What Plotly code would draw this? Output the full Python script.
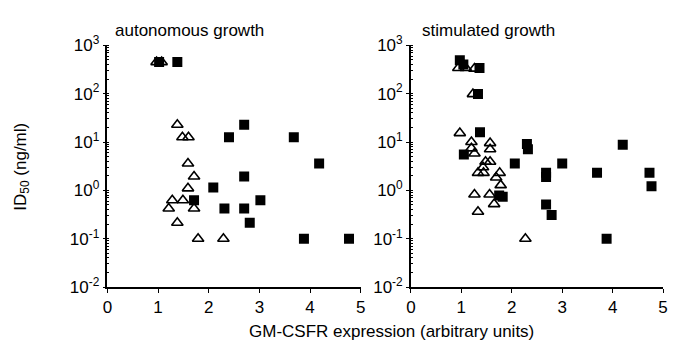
import plotly.graph_objects as go

# ID50 versus GM-CSFR expression, two growth conditions
# autonomous growth
auto_tri_x = [0.97, 1.07, 1.38, 1.48, 1.60, 1.59, 1.71, 1.59, 1.28, 1.49, 1.21, 1.71, 1.38, 1.79, 2.29]
auto_tri_y = [450, 450, 22.7, 12.5, 12.5, 3.6, 1.94, 1.1, 0.625, 0.625, 0.42, 0.42, 0.214, 0.1, 0.1]
auto_sq_x = [1.02, 1.38, 2.70, 2.40, 3.68, 4.18, 2.70, 2.09, 1.71, 3.02, 2.31, 2.70, 2.81, 3.88, 4.77]
auto_sq_y = [450, 450, 22.7, 12.5, 12.5, 3.6, 1.94, 1.15, 0.625, 0.625, 0.42, 0.42, 0.214, 0.1, 0.1]

# stimulated growth
stim_tri_x = [0.94, 1.09, 1.26, 1.23, 0.97, 1.20, 1.20, 1.57, 1.57, 1.26, 1.48, 1.57, 1.43,
              1.33, 1.44, 1.76, 1.69, 1.78, 1.26, 1.56, 1.65, 1.33, 2.27]
stim_tri_y = [340, 340, 330, 98, 15.3, 10, 7.4, 9.5, 7.1, 5.8, 3.9, 3.9, 3.0,
              2.3, 2.3, 2.3, 1.85, 1.28, 0.82, 0.82, 0.52, 0.36, 0.1]
stim_sq_x = [0.97, 1.04, 1.36, 1.33, 1.37, 2.30, 2.32, 4.20, 1.05, 2.06, 3.00, 2.68, 3.69,
             4.73, 2.68, 4.77, 1.75, 1.82, 2.68, 2.79, 3.88]
stim_sq_y = [490, 400, 340, 98, 16, 9.1, 7.1, 8.8, 5.5, 3.6, 3.6, 2.3, 2.3,
             2.3, 1.9, 1.22, 0.78, 0.74, 0.51, 0.31, 0.1]

x_ticks = [0, 1, 2, 3, 4, 5]
y_tickvals = [0.01, 0.1, 1, 10, 100, 1000]
y_ticktext = ["10<sup>-2</sup>", "10<sup>-1</sup>", "10<sup>0</sup>",
              "10<sup>1</sup>", "10<sup>2</sup>", "10<sup>3</sup>"]

W, H = 675, 359
FONT = "Liberation Sans, Arial, sans-serif"

sq_marker = dict(symbol="square", size=10, color="black", line=dict(width=0))
tri_marker = dict(symbol="triangle-up-open", size=10, color="black", line=dict(width=1.6, color="black"))

fig = go.Figure()
fig.add_trace(go.Scatter(x=auto_sq_x, y=auto_sq_y, mode="markers", marker=sq_marker,
                         xaxis="x", yaxis="y", showlegend=False))
fig.add_trace(go.Scatter(x=auto_tri_x, y=auto_tri_y, mode="markers", marker=tri_marker,
                         xaxis="x", yaxis="y", showlegend=False))
fig.add_trace(go.Scatter(x=stim_sq_x, y=stim_sq_y, mode="markers", marker=sq_marker,
                         xaxis="x2", yaxis="y2", showlegend=False))
fig.add_trace(go.Scatter(x=stim_tri_x, y=stim_tri_y, mode="markers", marker=tri_marker,
                         xaxis="x2", yaxis="y2", showlegend=False))

y_bottom = 1 - 293 / H
y_top = 1 - 35.5 / H


def xaxis(domain, anchor):
    return dict(domain=domain, anchor=anchor, range=[0, 5], tickvals=x_ticks,
                showline=True, linecolor="black", linewidth=1.6, ticks="outside",
                ticklen=4, tickwidth=1.4, tickcolor="black", showgrid=False, zeroline=False,
                tickfont=dict(family=FONT, size=17, color="black"))


def yaxis(anchor):
    return dict(domain=[y_bottom, y_top], anchor=anchor, type="log", range=[-2, 3],
                tickvals=y_tickvals, ticktext=y_ticktext,
                showline=True, linecolor="black", linewidth=1.6, ticks="outside",
                ticklen=3, tickwidth=1.4, tickcolor="black", showgrid=False, zeroline=False,
                minor=dict(ticks="inside", ticklen=2, tickwidth=0.8, tickcolor="black",
                           dtick="D1", showgrid=False),
                tickfont=dict(family=FONT, size=17, color="black"))


fig.update_layout(
    width=W, height=H,
    margin=dict(l=0, r=0, t=0, b=0),
    paper_bgcolor="white", plot_bgcolor="white",
    xaxis=xaxis([104 / W, 361 / W], "y"),
    yaxis=yaxis("x"),
    xaxis2=xaxis([412 / W, 668 / W], "y2"),
    yaxis2=yaxis("x2"),
    annotations=[
        dict(text="autonomous growth", x=110 / W, y=1 - 20 / H, xref="paper", yref="paper",
             xanchor="left", yanchor="middle", showarrow=False,
             font=dict(family=FONT, size=17, color="black")),
        dict(text="stimulated growth", x=421 / W, y=1 - 20 / H, xref="paper", yref="paper",
             xanchor="left", yanchor="middle", showarrow=False,
             font=dict(family=FONT, size=17, color="black")),
        dict(text="GM-CSFR expression (arbitrary units)", x=392 / W, y=1 - 340 / H,
             xref="paper", yref="paper", xanchor="center", yanchor="middle", showarrow=False,
             font=dict(family=FONT, size=17, color="black")),
        dict(text="ID<sub>50</sub> (ng/ml)", x=17 / W, y=1 - 165 / H, textangle=-90,
             xref="paper", yref="paper", xanchor="center", yanchor="middle", showarrow=False,
             font=dict(family=FONT, size=17, color="black")),
    ],
)

fig.write_html("out.html")
